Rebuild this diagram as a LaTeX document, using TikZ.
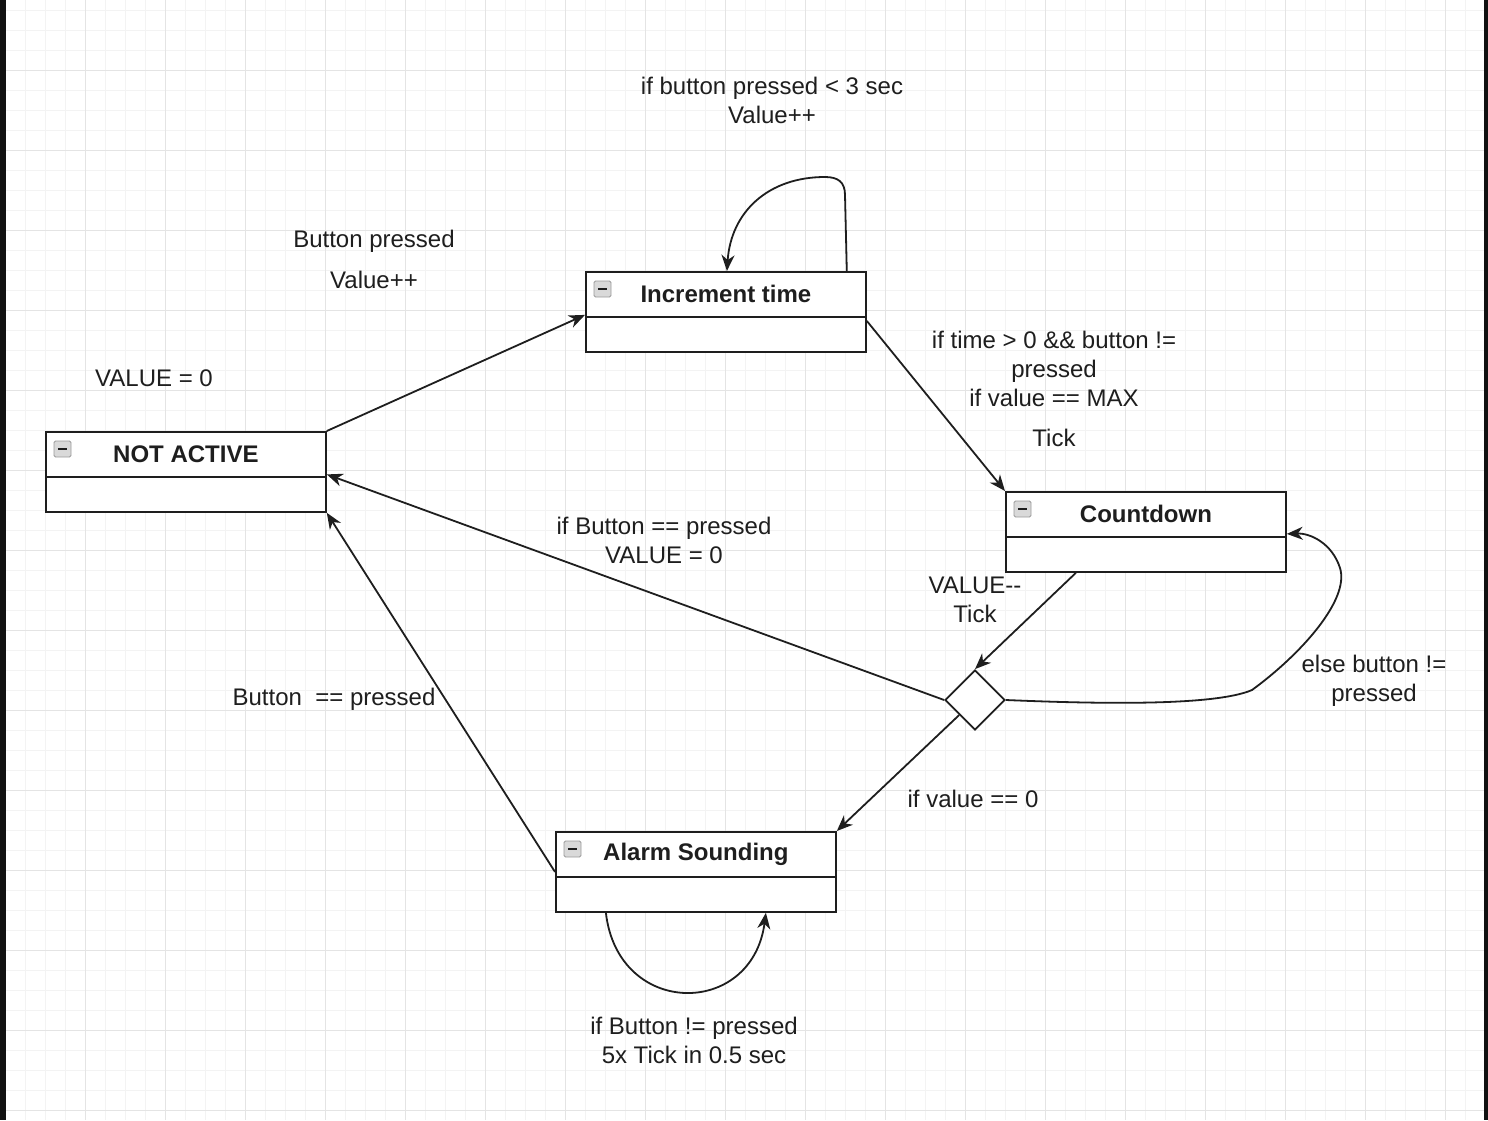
\documentclass[tikz,border=0pt]{standalone}
\usepackage{fontspec}
\setmainfont{Liberation Sans}
\usetikzlibrary{arrows.meta,shapes.geometric,calc}

\definecolor{gridminor}{HTML}{F3F3F3}
\definecolor{gridmajor}{HTML}{E4E4E4}
\definecolor{ink}{HTML}{1E1E1E}
\definecolor{iconfill}{HTML}{D9D9D9}
\definecolor{iconline}{HTML}{9A9A9A}
\definecolor{frame}{HTML}{111111}

\tikzset{
  statebox/.style={draw=ink, line width=1.8pt, fill=white, minimum width=280pt,
    minimum height=80pt, inner sep=0pt, anchor=north west},
  divider/.style={draw=ink, line width=1.8pt},
  collapse/.style={draw=iconline, fill=iconfill, rounded corners=1.5pt,
    minimum width=17pt, minimum height=16pt, inner sep=0pt, line width=0.8pt},
  statetitle/.style={font=\fontsize{24}{29}\selectfont\bfseries, text=ink, inner sep=0pt},
  lbl/.style={font=\fontsize{24}{29}\selectfont, text=ink, align=center, inner sep=0pt},
  choice/.style={diamond, draw=ink, line width=1.8pt, fill=white, minimum width=60pt,
    minimum height=60pt, inner sep=0pt, aspect=1},
  edge/.style={draw=ink, line width=1.8pt, -{Stealth[length=16pt,width=13pt,inset=5pt]}},
}

% state with a title bar, a collapse icon and an empty body
\newcommand\StateBox[3]{%
  \node[statebox] (#1) at (#2) {};
  \draw[divider] ([yshift=-46pt]#1.north west) -- ([yshift=-46pt]#1.north east);
  \node[collapse] (#1-icon) at ([shift={(17.5pt,-18pt)}]#1.north west) {};
  \draw[line width=2pt, ink] ([xshift=-4.5pt]#1-icon.center) -- ([xshift=4.5pt]#1-icon.center);
  \node[statetitle] (#1-title) at ([yshift=-23pt]#1.north) {#3};
}

\begin{document}
\begin{tikzpicture}[x=1pt, y=-1pt]
  \useasboundingbox (0,0) rectangle (1488,1120);
  \fill[white] (0,0) rectangle (1488,1120);

  % background grid
  \foreach \gx in {5,25,...,1485} \draw[gridminor, line width=1pt] (\gx,0) -- (\gx,1120);
  \foreach \gy in {10.7,30.7,...,1115} \draw[gridminor, line width=1pt] (0,\gy) -- (1488,\gy);
  \foreach \gx in {5,85,...,1485} \draw[gridmajor, line width=1pt] (\gx,0) -- (\gx,1120);
  \foreach \gy in {70.7,150.7,...,1115} \draw[gridmajor, line width=1pt] (0,\gy) -- (1488,\gy);

  % window edges
  \fill[frame] (0,0) rectangle (6,1120);
  \fill[frame] (1484,0) rectangle (1488,1120);

  % states
  \StateBox{na}{45,431}{NOT ACTIVE}
  \StateBox{inc}{585,271}{Increment time}
  \StateBox{cd}{1005,491}{Countdown}
  \StateBox{al}{555,831}{Alarm Sounding}
  \node[choice] (dec) at (975,700) {};

  % transitions
  \draw[edge] (na.north east) -- ([yshift=-3pt]inc.west);
  \draw[edge] ([xshift=-20pt]inc.north east) -- (845,195)
    .. controls (845,182) and (838,177) .. (825,177)
    .. controls (768,177) and (731,212) .. ([xshift=1pt]inc.north);
  \draw[edge] ([yshift=-9pt]inc.east) -- (cd.north west);
  \draw[edge] ([xshift=-70pt]cd.south) -- (dec.north);
  \draw[edge] (dec.east) .. controls (1100,704) and (1215,706) .. (1252,690)
    .. controls (1300,655) and (1350,600) .. (1340,568)
    .. controls (1332,543) and (1310,533) .. ([yshift=-2pt]cd.east);
  \draw[edge] (dec.west) -- ([yshift=-2.5pt]na.east);
  \draw[edge] (dec) -- (al.north east);
  \draw[edge] (al.west) -- (na.south east);
  \draw[edge] ([xshift=-90pt]al.south) .. controls (618,1018) and (752,1018) .. ([xshift=70pt]al.south);

  % transition labels
  \node[lbl] (l-incloop) at (772,100) {if button pressed < 3 sec\\Value++};
  \node[lbl] (l-start) at (374,259) {Button pressed\\[12pt]Value++};
  \node[lbl] (l-init) at (154,378) {VALUE = 0};
  \node[lbl] (l-tocd) at (1054,389) {if time > 0 \&\& button !=\\pressed\\if value == MAX\\[11pt]Tick};
  \node[lbl] (l-reset) at (664,540) {if Button == pressed\\VALUE = 0};
  \node[lbl] (l-dec) at (975,600) {VALUE{-}{-}\\Tick};
  \node[lbl] (l-silence) at (334,699) {Button\ \ == pressed};
  \node[lbl] (l-else) at (1374,681) {else button !=\\pressed};
  \node[lbl] (l-zero) at (973,799) {if value == 0};
  \node[lbl] (l-alarm) at (694,1040) {if Button != pressed\\5x Tick in 0.5 sec};
\end{tikzpicture}
\end{document}
